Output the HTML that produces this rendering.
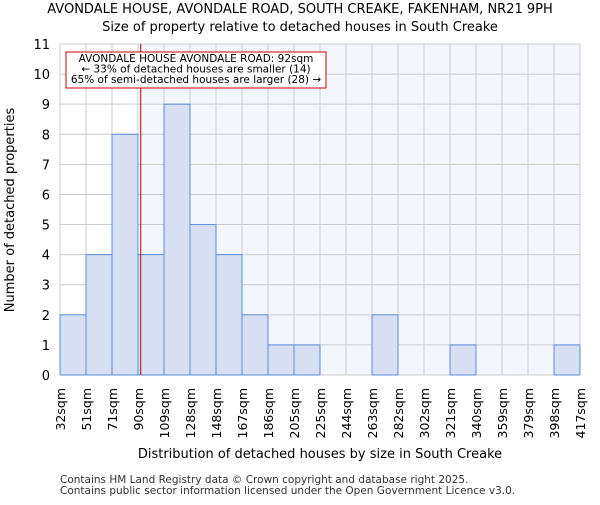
<!DOCTYPE html>
<html><head><meta charset="utf-8"><style>body{margin:0;background:#fff}svg{font-family:"DejaVu Sans","Liberation Sans",sans-serif}</style></head>
<body>
<svg id="chart" width="600" height="500">
<text x="300" y="13" text-anchor="middle" font-size="13">AVONDALE HOUSE, AVONDALE ROAD, SOUTH CREAKE, FAKENHAM, NR21 9PH</text>
<text x="300" y="31" text-anchor="middle" font-size="13">Size of property relative to detached houses in South Creake</text>
<g id="plot"></g>
<text x="14" y="210" transform="rotate(-90 14 210)" text-anchor="middle" font-size="13">Number of detached properties</text>
<text x="320" y="458" text-anchor="middle" font-size="13">Distribution of detached houses by size in South Creake</text>
<text x="60" y="483" font-size="10.5" fill="#333">Contains HM Land Registry data © Crown copyright and database right 2025.</text>
<text x="60" y="494" font-size="10.5" fill="#333">Contains public sector information licensed under the Open Government Licence v3.0.</text>
</svg>
<script>
const categories=["32sqm","51sqm","71sqm","90sqm","109sqm","128sqm","148sqm","167sqm","186sqm","205sqm","225sqm","244sqm","263sqm","282sqm","302sqm","321sqm","340sqm","359sqm","379sqm","398sqm","417sqm"];
const counts=[2,4,8,4,9,5,4,2,1,1,0,0,2,0,0,1,0,0,0,1];
const yTicks=[0,1,2,3,4,5,6,7,8,9,10,11];
const propertySize=92;
const binEdges=[32,51,71,90,109,128,148,167,186,205,225,244,263,282,302,321,340,359,379,398,417];
const L=60,R=580,T=44,B=375,yMax=11;
const ns="http://www.w3.org/2000/svg";
const g=document.getElementById('plot');
const bw=(R-L)/counts.length;
const x=i=>L+i*bw;
const y=v=>B-(v/yMax)*(B-T);
function sizeX(s){for(let i=0;i<binEdges.length-1;i++){if(s>=binEdges[i]&&s<=binEdges[i+1])return x(i)+(s-binEdges[i])/(binEdges[i+1]-binEdges[i])*bw;}return R;}
function mk(t,a){const e=document.createElementNS(ns,t);for(const k in a)e.setAttribute(k,a[k]);g.appendChild(e);return e;}
const lx=sizeX(propertySize);
let e=mk('rect',{x:L,y:T,width:lx-L,height:B-T,fill:'#ffffff'});


e=mk('rect',{x:lx,y:T,width:R-lx,height:B-T,fill:'#f3f6fd'});


yTicks.forEach(v=>{
 e=mk('line',{x1:L,x2:R,y1:y(v),y2:y(v),stroke:'#cccccc','stroke-width':1});
 
 
 e=mk('text',{x:L-10,y:y(v)+5,'text-anchor':'end','font-size':13});
 e.textContent=v;
 
 
});
categories.forEach((c,i)=>{
 e=mk('line',{x1:x(i),x2:x(i),y1:T,y2:B,stroke:'#cccccc','stroke-width':1});
 
 
 const tx=x(i)+5;
 e=mk('text',{x:tx,y:388,'text-anchor':'end','font-size':12.5,transform:`rotate(-90 ${tx} 388)`});
 e.textContent=c;
 
 
});
counts.forEach((v,i)=>{
 if(v<=0)return;
 e=mk('rect',{x:x(i),y:y(v),width:bw,height:B-y(v),fill:'#d6e0f2',stroke:'#5b8ed6','stroke-width':1});
 
 
});
e=mk('line',{x1:lx,x2:lx,y1:T,y2:B,stroke:'#b00000','stroke-width':1});


e=mk('rect',{x:66,y:52,width:260,height:36,fill:'#fff',stroke:'#cc0000','stroke-width':1});


["AVONDALE HOUSE AVONDALE ROAD: 92sqm","← 33% of detached houses are smaller (14)","65% of semi-detached houses are larger (28) →"].forEach((t,i)=>{
 e=mk('text',{x:196,y:62+i*10.5,'text-anchor':'middle','font-size':10.5});
 e.textContent=t;
 
 
});
</script>
</body></html>
